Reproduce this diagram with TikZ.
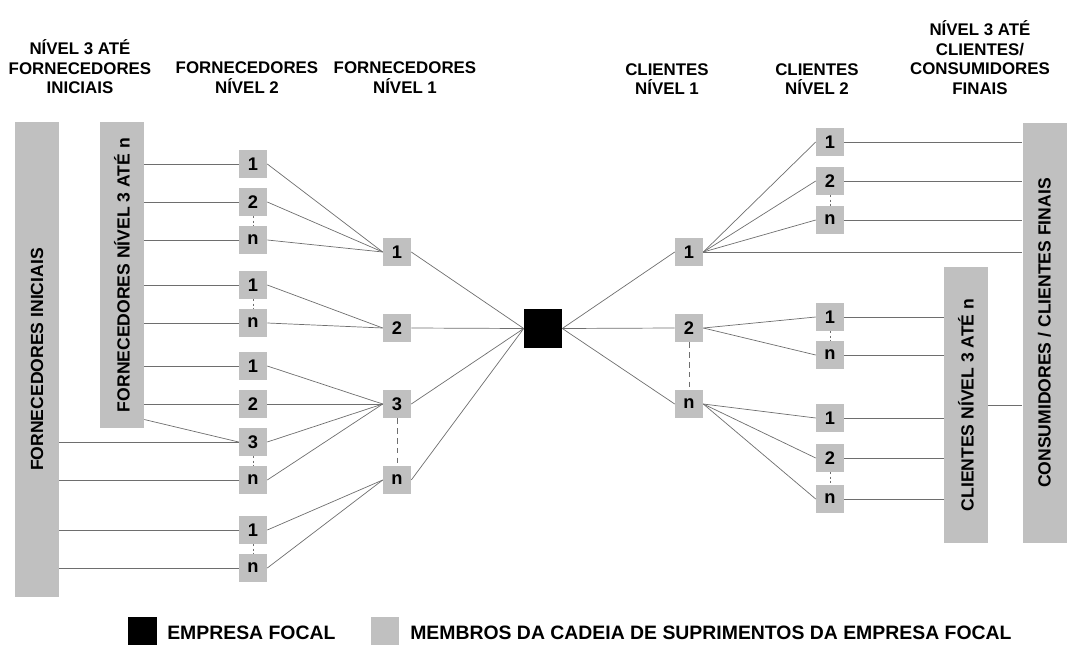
\documentclass[tikz,border=0pt]{standalone}
\usepackage{fontspec}
\setmainfont{Liberation Sans}
\usepackage{tikz}
\usetikzlibrary{positioning}

\definecolor{cinza}{RGB}{192,192,192}
\definecolor{traco}{RGB}{110,110,110}

\tikzset{
	membro/.style={fill=cinza, minimum size=0.7cm, inner sep=0pt, font=\fontsize{13}{15}\selectfont\bfseries},
	focal/.style={fill=black, minimum size=0.95cm, inner sep=0pt},
	barra/.style={fill=cinza, rotate=90, minimum height=1.1cm, inner sep=0pt, font=\fontsize{12.5}{14}\selectfont\bfseries},
	titulo/.style={align=center, font=\fontsize{12}{13.8}\selectfont\bfseries},
	legenda/.style={anchor=west, inner sep=0pt, font=\fontsize{13.8}{15}\selectfont\bfseries},
	linha/.style={draw=traco, line width=0.5pt},
	pontos/.style={draw=traco, line width=0.5pt, dash pattern=on 1.5pt off 1.5pt},
	tracos/.style={draw=traco, line width=0.6pt, dash pattern=on 4pt off 3pt}
}

\begin{document}
\begin{tikzpicture}[x=0.025cm, y=-0.025cm]
	\useasboundingbox (0, 0) rectangle (1083, 644);
	% titulos
	\node [titulo] (t0) at (80, 67) {NÍVEL 3 ATÉ\\FORNECEDORES\\INICIAIS};
	\node [titulo] (t1) at (247, 77.5) {FORNECEDORES\\NÍVEL 2};
	\node [titulo] (t2) at (405, 77.5) {FORNECEDORES\\NÍVEL 1};
	\node [titulo] (t3) at (667, 79) {CLIENTES\\NÍVEL 1};
	\node [titulo] (t4) at (817, 79) {CLIENTES\\NÍVEL 2};
	\node [titulo] (t5) at (980, 57.5) {NÍVEL 3 ATÉ\\CLIENTES/\\CONSUMIDORES\\FINAIS};
	% barras
	\node [barra, minimum width=11.875cm] (fi) at (37, 359.5) {FORNECEDORES INICIAIS};
	\node [barra, minimum width=7.65cm] (f3) at (122, 275) {FORNECEDORES NÍVEL 3 ATÉ n};
	\node [barra, minimum width=6.9cm] (c3) at (966, 405) {CLIENTES NÍVEL 3 ATÉ n};
	\node [barra, minimum width=10.5cm] (cf) at (1044.5, 333) {CONSUMIDORES / CLIENTES FINAIS};
	% fornecedores nivel 2
	\node [membro] (f2a) at (253, 164) {1};
	\node [membro] (f2b) at (253, 202) {2};
	\node [membro] (f2c) at (253, 240) {n};
	\node [membro] (f2d) at (253, 285) {1};
	\node [membro] (f2e) at (253, 323) {n};
	\node [membro] (f2f) at (253, 366) {1};
	\node [membro] (f2g) at (253, 404) {2};
	\node [membro] (f2h) at (253, 442) {3};
	\node [membro] (f2i) at (253, 480) {n};
	\node [membro] (f2j) at (253, 530) {1};
	\node [membro] (f2k) at (253, 568) {n};
	% fornecedores nivel 1
	\node [membro] (f1a) at (397, 252) {1};
	\node [membro] (f1b) at (397, 328) {2};
	\node [membro] (f1c) at (397, 404) {3};
	\node [membro] (f1d) at (397, 480) {n};
	% empresa focal
	\node [focal] (foco) at (543, 328.5) {};
	% clientes nivel 1
	\node [membro] (c1a) at (689, 252) {1};
	\node [membro] (c1b) at (689, 328) {2};
	\node [membro] (c1c) at (689, 404) {n};
	% clientes nivel 2
	\node [membro] (c2a) at (830, 142) {1};
	\node [membro] (c2b) at (830, 181) {2};
	\node [membro] (c2c) at (830, 220) {n};
	\node [membro] (c2d) at (830, 317) {1};
	\node [membro] (c2e) at (830, 355) {n};
	\node [membro] (c2f) at (830, 418) {1};
	\node [membro] (c2g) at (830, 458) {2};
	\node [membro] (c2h) at (830, 499) {n};
	% legenda
	\node [focal, minimum size=0.7cm] (lg1) at (142.5, 630.5) {};
	\node [legenda] (lt1) at (167, 633) {EMPRESA FOCAL};
	\node [membro] (lg2) at (385, 630.5) {};
	\node [legenda] (lt2) at (410, 633) {MEMBROS DA CADEIA DE SUPRIMENTOS DA EMPRESA FOCAL};
	% barras -> fornecedores nivel 2
	\draw [linha] (f2a.west -| f3.south) -- (f2a.west);
	\draw [linha] (f2b.west -| f3.south) -- (f2b.west);
	\draw [linha] (f2c.west -| f3.south) -- (f2c.west);
	\draw [linha] (f2d.west -| f3.south) -- (f2d.west);
	\draw [linha] (f2e.west -| f3.south) -- (f2e.west);
	\draw [linha] (f2f.west -| f3.south) -- (f2f.west);
	\draw [linha] (f2g.west -| f3.south) -- (f2g.west);
	\draw [linha] ([yshift=0.22cm]f3.south west) -- (f2h.west);
	\draw [linha] (f2h.west -| fi.south) -- (f2h.west);
	\draw [linha] (f2i.west -| fi.south) -- (f2i.west);
	\draw [linha] (f2j.west -| fi.south) -- (f2j.west);
	\draw [linha] (f2k.west -| fi.south) -- (f2k.west);
	% fornecedores nivel 2 -> nivel 1
	\draw [linha] (f2a.east) -- (f1a.west);
	\draw [linha] (f2b.east) -- (f1a.west);
	\draw [linha] (f2c.east) -- (f1a.west);
	\draw [linha] (f2d.east) -- (f1b.west);
	\draw [linha] (f2e.east) -- (f1b.west);
	\draw [linha] (f2f.east) -- (f1c.west);
	\draw [linha] (f2g.east) -- (f1c.west);
	\draw [linha] (f2h.east) -- (f1c.west);
	\draw [linha] (f2i.east) -- (f1c.west);
	\draw [linha] (f2j.east) -- (f1d.west);
	\draw [linha] (f2k.east) -- (f1d.west);
	\draw [pontos] (f2b.south) -- (f2c.north);
	\draw [pontos] (f2d.south) -- (f2e.north);
	\draw [pontos] (f2h.south) -- (f2i.north);
	\draw [pontos] (f2j.south) -- (f2k.north);
	% nivel 1 <-> empresa focal
	\draw [linha] (f1a.east) -- (foco.west);
	\draw [linha] (f1b.east) -- (foco.west);
	\draw [linha] (f1c.east) -- (foco.west);
	\draw [linha] (f1d.east) -- (foco.west);
	\draw [tracos] (f1c.south) -- (f1d.north);
	\draw [linha] (foco.east) -- (c1a.west);
	\draw [linha] (foco.east) -- (c1b.west);
	\draw [linha] (foco.east) -- (c1c.west);
	\draw [tracos] (c1b.south) -- (c1c.north);
	% clientes nivel 1 -> nivel 2
	\draw [linha] (c1a.east) -- (c2a.west);
	\draw [linha] (c1a.east) -- (c2b.west);
	\draw [linha] (c1a.east) -- (c2c.west);
	\draw [linha] (c1a.east) -- (c1a.east -| cf.north);
	\draw [linha] (c1b.east) -- (c2d.west);
	\draw [linha] (c1b.east) -- (c2e.west);
	\draw [linha] (c1c.east) -- (c2f.west);
	\draw [linha] (c1c.east) -- (c2g.west);
	\draw [linha] (c1c.east) -- (c2h.west);
	\draw [pontos] (c2b.south) -- (c2c.north);
	\draw [pontos] (c2d.south) -- (c2e.north);
	\draw [pontos] (c2g.south) -- (c2h.north);
	% clientes nivel 2 -> barras
	\draw [linha] (c2a.east) -- (c2a.east -| cf.north);
	\draw [linha] (c2b.east) -- (c2b.east -| cf.north);
	\draw [linha] (c2c.east) -- (c2c.east -| cf.north);
	\draw [linha] (c2d.east) -- (c2d.east -| c3.north);
	\draw [linha] (c2e.east) -- (c2e.east -| c3.north);
	\draw [linha] (c2f.east) -- (c2f.east -| c3.north);
	\draw [linha] (c2g.east) -- (c2g.east -| c3.north);
	\draw [linha] (c2h.east) -- (c2h.east -| c3.north);
	\draw [linha] (c3.south) -- (c3.south -| cf.north);
\end{tikzpicture}
\end{document}
